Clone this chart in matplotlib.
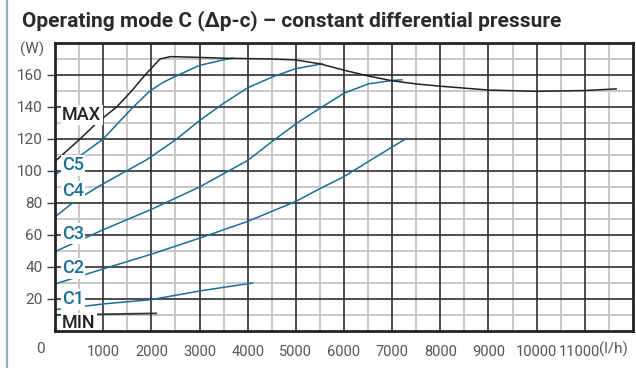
import matplotlib
matplotlib.use('Agg')
from matplotlib import pyplot as plt
from matplotlib.transforms import ScaledTranslation, blended_transform_factory
import numpy as np

font_name = 'Roboto'
blue = '#1b6e97'
black = '#222222'
label_gray = '#555555'

title = 'Operating mode C (\u0394p-c) \u2013 constant differential pressure'

x_ticks = [1000, 2000, 3000, 4000, 5000, 6000, 7000, 8000, 9000, 10000, 11000]
x_tick_labels = ['1000', '2000', '3000', '4000', '5000', '6000', '7000', '8000', '9000', '10000', '11000']
y_ticks = [20, 40, 60, 80, 100, 120, 140, 160]
y_tick_labels = ['20', '40', '60', '80', '100', '120', '140', '160']

# flow in l/h, power in W
max_flow = [0, 520, 865, 1280, 1590, 1870, 2180, 2400, 3000, 3500, 4500, 5000, 5500, 6000, 6500, 7000, 7500, 8000, 9000, 10000, 11000, 11650]
max_power = [106, 120, 130, 140, 150, 160, 170, 171.5, 171, 170.5, 170, 169.4, 167, 163, 159.4, 156.4, 154.4, 153, 150.6, 149.8, 150.3, 151.3]

c5_flow = [0, 500, 1000, 1310, 1625, 1970, 2250, 2560, 3000, 3500, 3700]
c5_power = [97.5, 109, 120, 130, 140, 150, 155.5, 160, 166, 169.5, 170.5]

c4_flow = [0, 450, 1000, 1900, 2500, 3000, 3500, 4000, 4530, 5000, 5550]
c4_power = [71.4, 82, 92, 107, 119.4, 131.5, 142.3, 152, 159, 164, 167]

c3_flow = [0, 1000, 2000, 3000, 4000, 4550, 5050, 5500, 6000, 6500, 7000, 7200]
c3_power = [49.6, 63.3, 76, 90, 106.6, 119.4, 130.5, 139.2, 148.6, 154.4, 156.6, 157]

c2_flow = [0, 1000, 2000, 3000, 4000, 5000, 5500, 6000, 6500, 7000, 7300]
c2_power = [29.4, 38.8, 48, 58, 68.5, 81, 89, 96.5, 105.8, 115, 120.4]

c1_flow = [0, 1000, 2000, 3000, 4100]
c1_power = [13.3, 16.9, 19.6, 25, 30]

min_flow = [0, 2100]
min_power = [10, 11]

curve_names = ['MAX', 'C5', 'C4', 'C3', 'C2', 'C1', 'MIN']
curve_label_y = [135, 103.5, 87.3, 60.8, 39.1, 19.8, 4.8]


def curve_label(ax, text, y, color):
    ax.text(145, y, text, color=color, fontname=font_name, fontsize=13, fontweight='medium',
            ha='left', va='center', zorder=4,
            bbox=dict(boxstyle='square,pad=0.08', facecolor='white', edgecolor='none'))


fig = plt.figure(figsize=(6.36, 3.68), dpi=100)
ax = fig.add_axes([55 / 636, 37 / 368, 578 / 636, 288 / 368])

# side marker line
fig.add_artist(plt.Line2D([6.5 / 636, 6.5 / 636], [0, 1], color='#86b2cc', linewidth=1.6))

fig.text(22 / 636, 1 - 21 / 368, title, fontname=font_name, fontsize=15, fontweight='bold',
         color='#2a2a2a', ha='left', va='center')

ax.set_xlim(0, 12000)
ax.set_ylim(0, 180)

# grid: light every 500 l/h and 10 W, dark every 1000 l/h and 20 W
ax.vlines(np.arange(500, 12000, 1000), 0, 180, color='#c4c4c4', linewidth=1.3, zorder=1.5)
ax.hlines(np.arange(10, 180, 20), 0, 12000, color='#c4c4c4', linewidth=1.3, zorder=1.5)
ax.vlines(np.arange(1000, 12000, 1000), 0, 180, color='#303030', linewidth=1.2, zorder=1.6)
ax.hlines(np.arange(20, 180, 20), 0, 12000, color='#303030', linewidth=1.2, zorder=1.6)

ax.set_xticks(x_ticks, x_tick_labels)
ax.set_yticks(y_ticks, y_tick_labels)
ax.tick_params(axis='x', length=0, pad=10, labelsize=10.5, labelcolor=label_gray)
ax.tick_params(axis='y', length=6, width=1, color='#333333', pad=3, labelsize=11,
               labelcolor=label_gray)
for lbl in ax.get_xticklabels() + ax.get_yticklabels():
    lbl.set_fontname(font_name)
ax.get_xticklabels()[-1].set_transform(ax.get_xticklabels()[-1].get_transform()
                                       + ScaledTranslation(-5 / 100, 0, fig.dpi_scale_trans))
for spine in ax.spines.values():
    spine.set_linewidth(2)
    spine.set_color(black)
    spine.set_zorder(5)

# axis units and the lone zero
blend = blended_transform_factory(ax.transData, ax.transAxes)
ax.text(-310, -0.063, '0', transform=blend, fontname=font_name, fontsize=11, color=label_gray,
        ha='center', va='center', clip_on=False)
ax.text(11300, -0.063, '(l/h)', transform=blend, fontname=font_name, fontsize=11, color=label_gray,
        ha='left', va='center', clip_on=False)
ax.text(-11 / 578, 176, '(W)', transform=blended_transform_factory(ax.transAxes, ax.transData),
        fontname=font_name, fontsize=11, color=label_gray, ha='right', va='center', clip_on=False)

ax.plot(c5_flow, c5_power, color=blue, linewidth=1.1, zorder=2)
ax.plot(c4_flow, c4_power, color=blue, linewidth=1.1, zorder=2)
ax.plot(c3_flow, c3_power, color=blue, linewidth=1.1, zorder=2)
ax.plot(c2_flow, c2_power, color=blue, linewidth=1.1, zorder=2)
ax.plot(c1_flow, c1_power, color=blue, linewidth=1.1, zorder=2)
ax.plot(max_flow, max_power, color=black, linewidth=1.1, zorder=3)
ax.plot(min_flow, min_power, color='#333333', linewidth=1.3, zorder=3)

for name, y in zip(curve_names, curve_label_y):
    curve_label(ax, name, y, black if name in ('MAX', 'MIN') else blue)

plt.savefig('out.png', dpi=100)
plt.close()
